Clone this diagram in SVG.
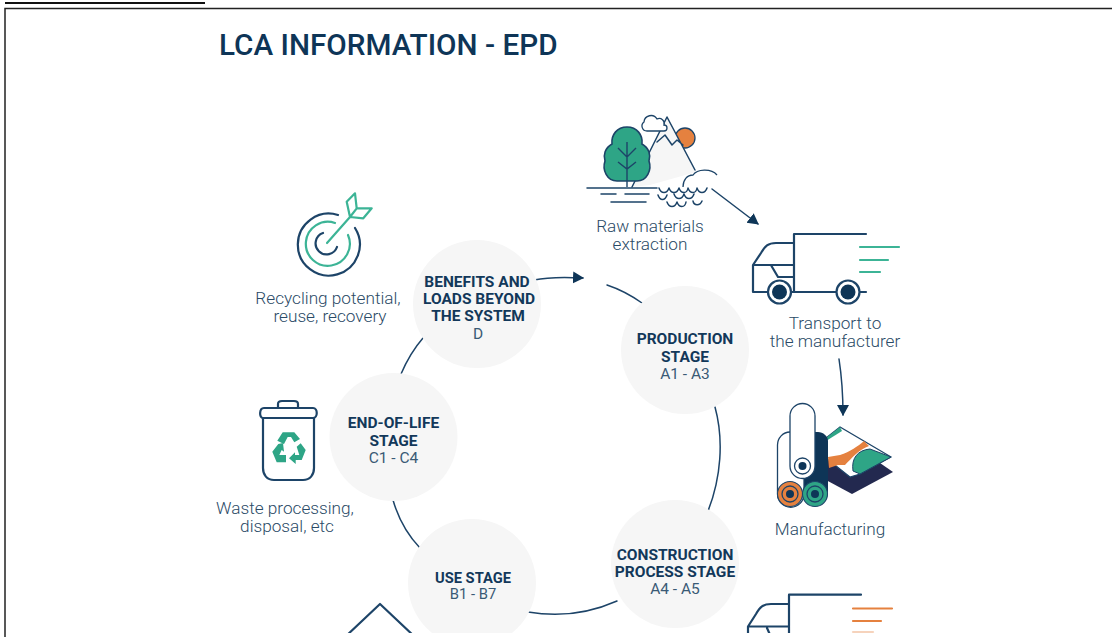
<svg xmlns="http://www.w3.org/2000/svg" width="1112" height="637" viewBox="0 0 1112 637">
<style>
text{font-family:Roboto,"Liberation Sans",sans-serif;text-anchor:middle}
.t{font-size:29.700px;font-weight:500;fill:#0e3557;text-anchor:start}
.b{font-size:15.500px;font-weight:700;fill:#12385a}
.s{font-size:15.500px;font-weight:400;fill:#3a5a75}
.l{font-size:17.200px;font-weight:300;fill:#2a4a66}
.c{fill:#f6f6f6}
.n{fill:none;stroke:#1d4468;stroke-width:2.200;stroke-linecap:round;stroke-linejoin:round}
.g{fill:none;stroke:#3cb496;stroke-width:2.200;stroke-linecap:round;stroke-linejoin:round}
.o{fill:none;stroke:#e5813f;stroke-width:2.200;stroke-linecap:round}
.k{fill:none;stroke:#1d4468;stroke-width:1.500;stroke-linecap:round;stroke-linejoin:round}
</style>
<defs>
<marker id="a" markerUnits="userSpaceOnUse" markerWidth="14" markerHeight="14" refX="10" refY="6" orient="auto"><path d="M0 0L11 6L0 12Z" fill="#0e3557"/></marker>
</defs>
<g id="frame">
<line x1="5" y1="3" x2="205" y2="3" stroke="#111" stroke-width="2"/>
</g>
<text class="t" x="219" y="55">LCA INFORMATION - EPD</text>
<g id="connectors">
<path class="k" d="M534 280C548 277 564 277 583 278" marker-end="url(#a)"/>
<path class="k" d="M607 285Q625 291 642 303"/>
<path class="k" d="M715 407C724 440 721 478 708 511"/>
<path class="k" d="M617 601Q574 620 528 612"/>
<path class="k" d="M420 548Q401 528 393 500"/>
<path class="k" d="M401 374Q410 353 423 338"/>
<path class="k" d="M712 189L758 224" marker-end="url(#a)"/>
<path class="k" d="M839 359Q843 385 843 415" marker-end="url(#a)"/>
</g>
<g id="stage-d"><circle class="c" cx="477" cy="304" r="64"/>
<text class="b" x="477" y="287">BENEFITS AND</text><text class="b" x="479" y="304">LOADS BEYOND</text><text class="b" x="478" y="321">THE SYSTEM</text><text class="s" x="478" y="339">D</text></g>
<g id="stage-a1"><circle class="c" cx="685" cy="350" r="64"/>
<text class="b" x="685" y="344">PRODUCTION</text><text class="b" x="685" y="362">STAGE</text><text class="s" x="685" y="379">A1 - A3</text></g>
<g id="stage-c"><circle class="c" cx="393.500" cy="437" r="64"/>
<text class="b" x="393.500" y="428">END-OF-LIFE</text><text class="b" x="393.500" y="446">STAGE</text><text class="s" x="393.500" y="463">C1 - C4</text></g>
<g id="stage-a4"><circle class="c" cx="675" cy="564" r="64"/>
<text class="b" x="675" y="560">CONSTRUCTION</text><text class="b" x="675" y="577">PROCESS STAGE</text><text class="s" x="675" y="594">A4 -  A5</text></g>
<g id="stage-b"><circle class="c" cx="472" cy="583" r="64"/>
<text class="b" x="473" y="582.500" style="font-size:14.700px">USE STAGE</text><text class="s" x="473" y="599" style="font-size:14.800px">B1 - B7</text></g>
<g id="raw-materials">
<circle cx="685" cy="138" r="10" fill="#e5813f" stroke="#1d4468" stroke-width="1.300"/>
<path d="M647 157L667 117L695 170L696 172L650 185L632 187Z" fill="#f6f6f6"/>
<path class="k" d="M647 157L667 117L695 170M657 142L665 135L672 145L677 140L683 145M632 187L647 157"/>
<path d="M647 131a5 5 0 0 1-3-9a7 7 0 0 1 13-3a5 5 0 0 1 7 6a3 3 0 0 1 0 6Z" fill="#fff" stroke="#1d4468" stroke-width="1.300"/>
<path d="M627 127c10 0 16 8 15 17c7 4 9 11 7 17c3 9-2 20-12 20h-20c-10 0-15-11-12-20c-2-6 0-13 7-17c-1-9 5-17 15-17Z" fill="#2ea586" stroke="#1d4468" stroke-width="1.600"/>
<path d="M627 142V187M618 148L627 157L636 148M618 162L627 169L636 162" fill="none" stroke="#1d4468" stroke-width="1.400"/>
<path class="k" d="M587 188H657M601 194H616M625 194H649M611 202H646"/>
<path d="M683 187c0-7 4-12 10-12c4-6 18-7 24 0" fill="#fff" stroke="#1d4468" stroke-width="1.300"/>
<path class="k" d="M659 188c2 6 8 6 10 0c2 6 8 6 10 0c2 6 8 6 9 0c2 6 8 6 9 0c2 6 8 6 10 0M658 195c2 6 7 6 9 0M674 194c2 6 8 6 10 0c2 6 8 6 10 0M667 202c2 6 8 6 10 0c2 6 8 6 9 0M693 201c1 5 7 5 9 0"/>
<text class="l" x="650" y="231.500">Raw materials</text><text class="l" x="650" y="249.500">extraction</text>
</g>
<g id="transport">
<path class="n" d="M794 234H866M794 234V292M794 243H776C768 243 765 246 761 253L753 265V292H767M753 265H794M771.500 266L778 277H794M792 292H836M860 292H866"/>
<circle cx="779.500" cy="292" r="11.500" fill="#fff" stroke="#1d4468" stroke-width="2.200"/><circle cx="779.500" cy="292" r="7.500" fill="#0e3557"/>
<circle cx="848" cy="292" r="11.500" fill="#fff" stroke="#1d4468" stroke-width="2.200"/><circle cx="848" cy="292" r="7.500" fill="#0e3557"/>
<path class="g" d="M860 247H899M860 260H888M860 272H880"/>
<text class="l" x="835" y="328.500">Transport to</text><text class="l" x="835" y="346.500">the manufacturer</text>
</g>
<g id="manufacturing">
<path d="M880 463L893 472L852 494L826 480V455Z" fill="#23294f"/>
<path d="M826 438L840 427L891 457L860 474L850 477L826 458Z" fill="#fff" stroke="#1d4468" stroke-width="1.200"/>
<path d="M826 438L840 427L842 431L826 441Z" fill="#2ea586"/>
<path d="M828 457L840 455C850 452 858 446 864 441L869 446C858 450 852 458 845 465L838 465L829 468Z" fill="#e5813f"/>
<path d="M853 471C851 458 858 450 870 449L891 457L860 474Z" fill="#2ea586" stroke="#1d4468" stroke-width="1"/>
<path d="M813 432H818C823 432 828 436 828 441V492A13 13 0 0 1 802 492V440Z" fill="#0e3557"/>
<path d="M790 432C783 432 777.500 438 777.500 445V494A12.500 12.500 0 0 0 804 494V432Z" fill="#fff" stroke="#1d4468" stroke-width="1.300"/>
<circle cx="790" cy="494" r="12.500" fill="#e5813f" stroke="#1d4468" stroke-width="1.100"/><circle cx="790" cy="494" r="8" fill="none" stroke="#1d4468" stroke-width="1.300"/><circle cx="790" cy="494" r="4" fill="#0e3557"/>
<circle cx="815" cy="494" r="12.500" fill="#2ea586" stroke="#1d4468" stroke-width="1.100"/><circle cx="815" cy="494" r="8" fill="none" stroke="#1d4468" stroke-width="1.300"/><circle cx="815" cy="494" r="4" fill="#0e3557"/>
<path d="M790 466V416A12.500 12.500 0 0 1 815 416V466A12.500 12.500 0 0 1 790 466Z" fill="#fff" stroke="#1d4468" stroke-width="1.300"/>
<circle cx="802.500" cy="466" r="8" fill="none" stroke="#1d4468" stroke-width="1.300"/><circle cx="802.500" cy="466" r="4" fill="#0e3557"/>
<text class="l" x="830" y="535">Manufacturing</text>
</g>
<g id="recycling">
<path class="n" d="M338 215A31 31 0 1 0 355 228"/>
<path class="g" d="M335 223A22 22 0 1 0 348 235"/>
<path class="n" d="M323 233A11 11 0 1 0 337 247"/>
<path class="g" d="M327 243L350 217M350 217L346.700 201.700L355 193.300L356.700 208.300H371.700L363.300 218.300L350 217M350 217L356.700 208.300"/>
<text class="l" x="328" y="304">Recycling potential,</text><text class="l" x="330" y="322">reuse, recovery</text>
</g>
<g id="waste">
<path class="n" d="M263 418V468C263 475 267 480 274 480H303C310 480 314 475 314 468V418"/>
<path class="n" d="M263 418H313C318 418 318 408 313 408H264C259 408 259 418 263 418ZM278 408V404C278 402 280 401 282 401H294C296 401 298 402 298 404V408"/>
<path d="M277.300 440.700L282.700 432.300H294.300L300 439L294.300 442.300L291 437H287.700L284 444ZM300.700 443.300L305.700 450L301.700 460H295.700V464L289 458.300L295 452.300V455H299.300L296.700 446.700ZM278.300 444L272.300 451.700L276.700 462.300H286V455H279.300L281.700 450L284 451.700L283 443Z" fill="#2ea586"/>
<text class="l" x="285" y="514">Waste processing,</text><text class="l" x="287" y="532">disposal, etc</text>
</g>
<g id="use-icon"><path class="n" d="M345 637L380 604L415 637"/></g>
<g id="site-transport">
<path class="n" d="M789 594.700H861M789 595V637M789 604H771C763 604 760 607 756 614L748 626.500V637M748 626.500H789M767 628L771 637"/>
<path class="o" d="M853 608.500H892M853 621H881"/>
<path class="o" d="M853 632H873" opacity=".35"/>
</g>
<rect x="0" y="633" width="1112" height="4" fill="#fff"/>
<path d="M5 637V8.500H1112" fill="none" stroke="#222" stroke-width="1.500"/>
</svg>
